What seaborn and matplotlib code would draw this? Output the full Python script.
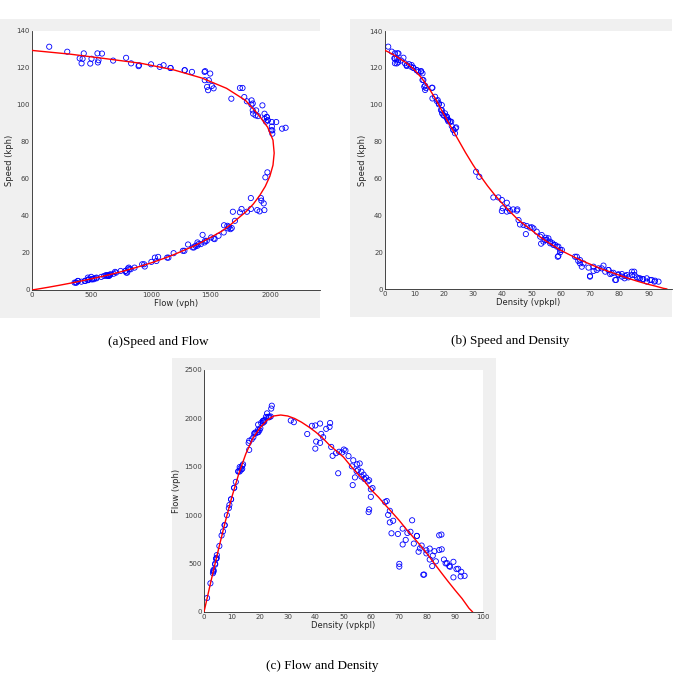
import pandas as pd
import seaborn as sns
import matplotlib.pyplot as plt
from matplotlib.patches import Rectangle

sns.set_theme(style="white")
plt.rcParams['font.family'] = ['DejaVu Sans']

density = [1.1, 2.3, 3.4, 4.3, 3.2, 4.0, 4.5, 3.4, 4.5, 5.5, 6.8, 7.4, 8.2, 8.9, 9.7,
           10.8, 11.4, 12.3, 12.8, 13.1, 13.7, 14.0, 16.0, 17.1, 18.0, 18.4, 19.1, 19.5,
           20.2, 21.1, 21.6, 19.4, 20.5, 21.1, 21.6, 22.2, 23.3, 23.9, 24.3, 22.8,
           3.4, 4.0, 4.6, 6.3, 7.4, 9.1, 9.7, 10.8, 12.3, 12.8, 13.4, 13.7, 16.2, 16.2,
           17.7, 18.4, 19.4, 19.9, 21.1, 21.6, 22.6, 23.4, 24.1,
           31.1, 32.2, 37.0, 38.7, 39.9, 41.6, 40.2, 42.0, 43.8, 45.2,
           39.9, 41.6, 42.7, 45.0, 45.6, 46.1, 47.3, 48.4, 49.5, 48.1, 50.7, 51.8, 53.5,
           53.3, 54.7, 55.8, 56.4, 57.2, 58.1, 59.2, 59.0, 59.8, 60.4, 54.9,
           50.1, 53.0, 54.1, 55.2, 56.4, 57.5, 58.7, 59.8, 59.2,
           65.5, 66.6, 67.8, 67.2, 70.0, 71.2, 72.3, 74.0, 75.2, 76.3, 76.9, 78.0, 78.9,
           79.7, 80.9, 82.0, 83.1, 84.3, 85.1, 86.0, 87.1, 88.2, 89.4, 91.1, 92.2, 93.4,
           64.9, 66.0, 66.6, 69.5, 70.0, 71.2, 72.9, 74.6, 76.3, 77.4, 78.6, 79.7, 80.9,
           81.8, 82.6, 84.3, 85.2, 86.6, 87.9, 89.4, 90.5, 92.0]
speed = [131.5, 128.8, 127.9, 127.9, 125.2, 125.0, 124.2, 122.5, 123.0, 124.0, 122.5,
         121.0, 122.0, 120.6, 120.0, 118.8, 117.9, 118.3, 117.0, 113.4, 110.3, 109.0,
         109.2, 104.3, 102.5, 100.8, 97.1, 95.3, 94.0, 92.6, 91.0, 99.8, 95.3, 93.5,
         91.7, 90.8, 86.3, 84.5, 87.7, 88.4,
         125.0, 122.4, 127.8, 125.5, 121.5, 121.5, 120.0, 118.8, 117.9, 113.4, 109.8,
         108.0, 109.2, 103.4, 102.0, 100.2, 97.1, 94.4, 93.5, 91.7, 90.8, 86.3, 87.2,
         63.6, 60.9, 49.7, 49.7, 48.3, 46.8, 43.8, 43.8, 43.2, 43.2,
         42.3, 42.0, 42.3, 42.5, 37.4, 35.0, 34.7, 34.2, 33.3, 29.8, 32.9, 31.1, 29.3,
         24.6, 26.6, 27.5, 25.7, 24.8, 23.9, 23.0, 17.5, 19.9, 21.2, 27.8,
         33.5, 28.4, 25.7, 26.6, 24.8, 23.9, 23.0, 21.2, 17.9,
         17.5, 15.7, 13.9, 12.1, 7.1, 12.1, 10.3, 11.2, 9.4, 10.3, 8.1, 8.8, 4.9,
         7.6, 8.1, 7.1, 6.3, 7.6, 9.4, 6.3, 5.8, 5.3, 5.8, 4.9, 4.5, 4.0,
         17.5, 15.2, 13.9, 11.6, 6.7, 9.8, 11.2, 12.7, 10.3, 8.5, 4.9, 8.0, 6.7,
         5.8, 7.6, 9.4, 7.6, 5.8, 5.4, 4.0, 4.9, 4.0]

# fitted speed-density curve (red line)
fit_density = [0, 2.5, 5, 7.5, 10, 12.5, 15, 17.5, 20, 22.5, 25, 27.5, 30, 32.5, 35,
               37.5, 40, 42.5, 45, 47.5, 50, 52.5, 55, 57.5, 60, 62.5, 65, 67.5, 70,
               72.5, 75, 77.5, 80, 82.5, 85, 87.5, 90, 92.5, 95, 96.3]
fit_speed = [129.5, 127.5, 125, 122.5, 119, 114.5, 109, 102.5, 95, 88, 81, 74, 67.5,
             61.5, 56, 51, 46.5, 42.3, 38.3, 35, 32, 28.8, 26, 23.5, 21, 19, 17, 15.2,
             13.5, 11.8, 10.3, 8.9, 7.5, 6.1, 4.8, 3.6, 2.5, 1.5, 0.4, 0]

df = pd.DataFrame({'density': density, 'speed': speed})
df['flow'] = df['density'] * df['speed']
fit = pd.DataFrame({'density': fit_density, 'speed': fit_speed})
fit['flow'] = fit['density'] * fit['speed']

W = H = 685
fig = plt.figure(figsize=(6.85, 6.85), dpi=100)


def frame(x0, y0, x1, y1):
    # grey figure background behind each panel (pixel coords, top-left origin)
    fig.add_artist(Rectangle((x0 / W, 1 - y1 / H), (x1 - x0) / W, (y1 - y0) / H,
                             transform=fig.transFigure, facecolor='#f0f0f0',
                             edgecolor='none', zorder=0))


def make_axes(x0, y0, x1, y1):
    return fig.add_axes([x0 / W, 1 - y1 / H, (x1 - x0) / W, (y1 - y0) / H])


def style(ax, xlabel, ylabel, xlim, ylim, xticks, yticks):
    ax.set_xlim(*xlim)
    ax.set_ylim(*ylim)
    ax.set_xticks(xticks)
    ax.set_yticks(yticks)
    ax.set_xlabel(xlabel, fontsize=6, color='#262626', labelpad=1)
    ax.set_ylabel(ylabel, fontsize=6, color='#262626', labelpad=2)
    ax.tick_params(direction='in', length=2.5, width=0.5, labelsize=5,
                   colors='#404040', pad=1.5)
    for s in ['top', 'right']:
        ax.spines[s].set_visible(False)
    for s in ['left', 'bottom']:
        ax.spines[s].set_color('#262626')
        ax.spines[s].set_linewidth(0.6)
    ax.set_facecolor('white')


scatter_kw = dict(marker='o', facecolors='none', edgecolor='#0000ff', s=14,
                  linewidth=0.6, zorder=2)
line_kw = dict(color='#ff0000', linewidth=1.0, sort=False, estimator=None, zorder=3)

# (a) speed vs flow
frame(0, 19, 320, 318)
ax = make_axes(32, 31, 320, 290)
sns.scatterplot(data=df, x='flow', y='speed', ax=ax, **scatter_kw)
sns.lineplot(data=fit, x='flow', y='speed', ax=ax, **line_kw)
style(ax, 'Flow (vph)', 'Speed (kph)', (0, 2420), (0, 140),
      [0, 500, 1000, 1500, 2000], range(0, 141, 20))

# (b) speed vs density
frame(350, 19, 672, 317)
ax = make_axes(385, 31, 672, 289)
sns.scatterplot(data=df, x='density', y='speed', ax=ax, **scatter_kw)
sns.lineplot(data=fit, x='density', y='speed', ax=ax, **line_kw)
style(ax, 'Density (vpkpl)', 'Speed (kph)', (0, 98), (0, 140),
      range(0, 91, 10), range(0, 141, 20))

# (c) flow vs density
frame(172, 358, 496, 640)
ax = make_axes(204, 370, 483, 612)
sns.scatterplot(data=df, x='density', y='flow', ax=ax, **scatter_kw)
sns.lineplot(data=fit, x='density', y='flow', ax=ax, **line_kw)
style(ax, 'Density (vpkpl)', 'Flow (vph)', (0, 100), (0, 2500),
      range(0, 101, 10), range(0, 2501, 500))

cap = dict(family=['Liberation Serif', 'DejaVu Serif'], fontsize=9.5,
           ha='center', va='center', color='black')
fig.text(158 / W, 1 - 342 / H, '(a)Speed and Flow', **cap)
fig.text(510 / W, 1 - 341 / H, '(b) Speed and Density', **cap)
fig.text(322 / W, 1 - 666 / H, '(c) Flow and Density', **cap)

fig.savefig('out.png', dpi=100, facecolor='white')
